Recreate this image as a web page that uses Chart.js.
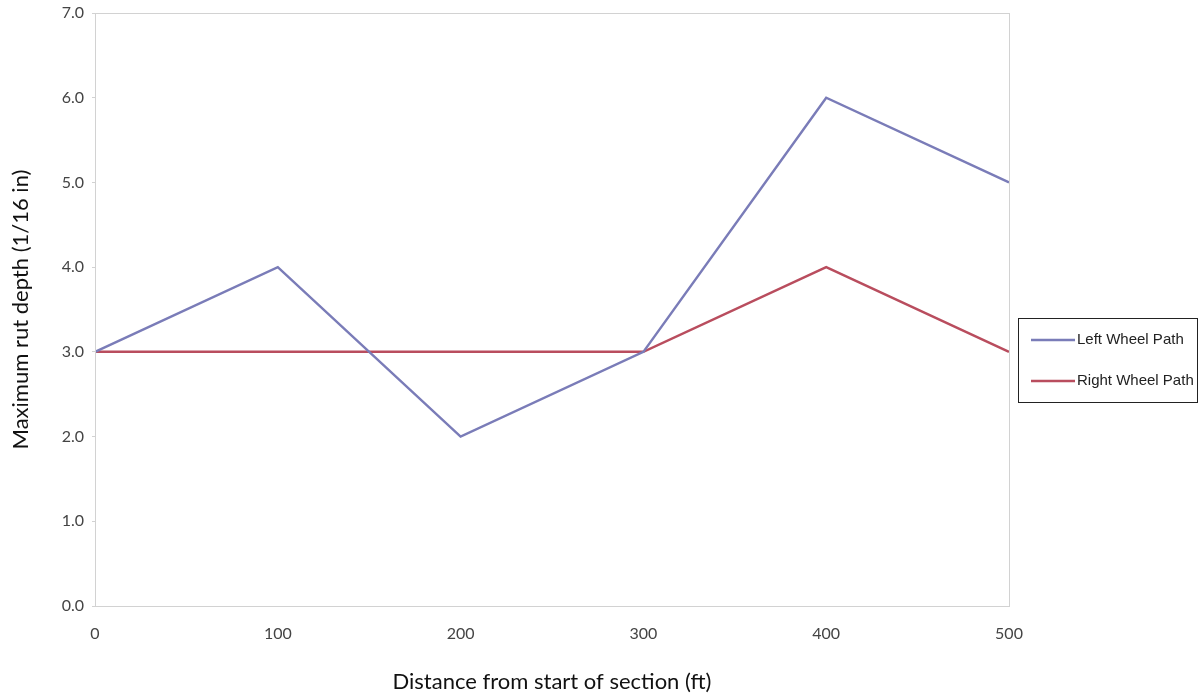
<!DOCTYPE html>
<html>
<head>
<meta charset="utf-8">
<script src="https://cdn.jsdelivr.net/npm/chart.js@4"></script>
<style>
  html, body { margin: 0; padding: 0; background: #fff; }
  #wrap { width: 1199px; height: 696px; }
</style>
</head>
<body>
<div id="wrap"><canvas id="chart" width="1199" height="696"></canvas></div>
<script>
const distances = [0, 100, 200, 300, 400, 500];
const leftWheel = [3, 4, 2, 3, 6, 5];
const rightWheel = [3, 3, 3, 3, 4, 3];
const seriesLabels = ['Left Wheel Path', 'Right Wheel Path'];
const seriesColors = ['#7a7cb8', '#b94d5e'];
const xTitle = 'Distance from start of section (ft)';
const yTitle = 'Maximum rut depth (1/16 in)';

const toPoints = ys => ys.map((y, i) => ({ x: distances[i], y }));

// box around the plot + boxed legend on the right
const frameAndLegend = {
    id: 'frameAndLegend',
    afterDraw(chart) {
        const { ctx, chartArea: a } = chart;
        ctx.save();
        ctx.strokeStyle = '#d2d2d2';
        ctx.lineWidth = 1;
        ctx.strokeRect(a.left + 0.5, a.top + 0.5, a.right - a.left, a.bottom - a.top);

        const bx = 1018, by = 318, bw = 179, bh = 84;
        ctx.strokeStyle = '#222';
        ctx.strokeRect(bx + 0.5, by + 0.5, bw, bh);
        ctx.font = '15px "Liberation Sans", Arial, sans-serif';
        ctx.fillStyle = '#222';
        ctx.textBaseline = 'middle';
        chart.data.datasets.forEach((ds, i) => {
            const y = by + 22 + i * 41;
            ctx.strokeStyle = ds.borderColor;
            ctx.lineWidth = 2.5;
            ctx.beginPath();
            ctx.moveTo(bx + 13, y);
            ctx.lineTo(bx + 57, y);
            ctx.stroke();
            ctx.fillText(ds.label, bx + 59, y);
        });
        ctx.restore();
    }
};

new Chart(document.getElementById('chart'), {
    type: 'line',
    data: {
        datasets: [
            { label: seriesLabels[0], data: toPoints(leftWheel), borderColor: seriesColors[0], borderWidth: 2.5, pointRadius: 0, tension: 0 },
            { label: seriesLabels[1], data: toPoints(rightWheel), borderColor: seriesColors[1], borderWidth: 2.5, pointRadius: 0, tension: 0 }
        ]
    },
    options: {
        responsive: false, animation: false,
        layout: { padding: { top: 13, right: 190, left: 0, bottom: 0 } },
        plugins: { legend: { display: false }, tooltip: { enabled: false } },
        scales: {
            x: {
                type: 'linear', min: 0, max: 500,
                ticks: { stepSize: 100, padding: 18, color: '#444', font: { family: 'Lato', size: 16 } },
                grid: { display: false, drawTicks: false },
                border: { display: false },
                title: { display: true, text: xTitle, color: '#111', font: { family: 'Lato', size: 22 }, padding: { top: 0, bottom: 1 } },
                afterFit: s => { s.height = 90; }
            },
            y: {
                min: 0, max: 7,
                ticks: { stepSize: 1, padding: 8, color: '#444', font: { family: 'Lato', size: 16 }, callback: v => v.toFixed(1) },
                grid: { display: true, drawOnChartArea: false, tickLength: 3, color: '#d2d2d2' },
                border: { display: false },
                title: { display: true, text: yTitle, color: '#111', font: { family: 'Lato', size: 22 }, padding: { top: 8, bottom: 0 } },
                afterFit: s => { s.width = 95; s.paddingTop = 0; s.paddingBottom = 0; }
            }
        }
    },
    plugins: [frameAndLegend]
});
</script>
</body>
</html>
